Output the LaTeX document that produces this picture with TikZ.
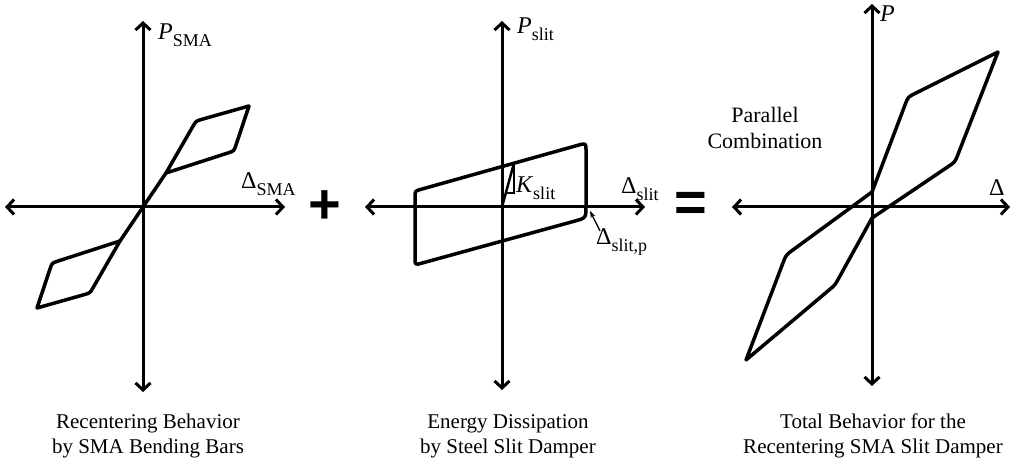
\documentclass[tikz,border=0pt]{standalone}
\usepackage{fontspec}
\setmainfont{Liberation Serif}
\newfontfamily\opfont{Liberation Sans}
\usetikzlibrary{arrows.meta,calc}
\tikzset{
  axisline/.style={line width=3pt, {Straight Barb[length=7pt,width=15pt]}-{Straight Barb[length=7pt,width=15pt]}},
  hyst/.style={line width=3.5pt, line join=round},
  slope/.style={line width=2pt},
  ptr/.style={-{Stealth[length=7pt,width=5pt]}, line width=1.3pt},
  lbl/.style={inner sep=0pt, anchor=base west, font=\fontsize{24}{24}\selectfont},
  capt/.style={inner sep=0pt, anchor=north, align=center, font=\fontsize{21}{25}\selectfont},
  op/.style={inner sep=0pt, font=\opfont\bfseries\fontsize{56}{56}\selectfont}
}
\newcommand{\lsub}[1]{\raisebox{-7pt}{\fontsize{18}{18}\selectfont #1}}

\begin{document}
\begin{tikzpicture}[x=1pt, y=1pt]
\useasboundingbox (0,0) rectangle (1024,471);
% Plot 1: SMA bending bars
\begin{scope}[shift={(143,264)}]
  \coordinate (o1) at (0,0);
  \coordinate (a1w) at (-138,0); \coordinate (a1e) at (142,0);
  \coordinate (a1s) at (0,-185); \coordinate (a1n) at (0,186);
  \draw[axisline] (a1w) -- (a1e);
  \draw[axisline] (a1s) -- (a1n);
  \coordinate (j1) at (23,34);   \coordinate (k1) at (53,86);
  \coordinate (t1) at (106,101); \coordinate (m1) at (91,56);
  \coordinate (j2) at (-23,-34);   \coordinate (k2) at (-53,-86);
  \coordinate (t2) at (-106,-101); \coordinate (m2) at (-91,-56);
  \draw[hyst] (j2) -- (j1);
  \draw[hyst] (j1) -- ($(k1)!6pt!(j1)$) .. controls (k1) .. ($(k1)!6pt!(t1)$) -- (t1)
    -- ($(m1)!6pt!(t1)$) .. controls (m1) .. ($(m1)!6pt!(j1)$) -- cycle;
  \draw[hyst] (j2) -- ($(k2)!6pt!(j2)$) .. controls (k2) .. ($(k2)!6pt!(t2)$) -- (t2)
    -- ($(m2)!6pt!(t2)$) .. controls (m2) .. ($(m2)!6pt!(j2)$) -- cycle;
\end{scope}
\node[lbl] (psma) at (158,431) {\textit{P}\lsub{SMA}};
\node[lbl] (dsma) at (241,282) {Δ\lsub{SMA}};
\node[op] (plus) at (325,264) {+};
% Plot 2: steel slit damper
\begin{scope}[shift={(502,264)}]
  \coordinate (o2) at (0,0);
  \coordinate (a2w) at (-137,0); \coordinate (a2e) at (143,0);
  \coordinate (a2s) at (0,-183); \coordinate (a2n) at (0,186);
  \draw[axisline] (a2w) -- (a2e);
  \draw[axisline] (a2s) -- (a2n);
  \coordinate (tl) at (-87,16); \coordinate (tr) at (84,64);
  \coordinate (br) at (84,-11); \coordinate (bl) at (-87,-58);
  \draw[hyst] (-87,-20) -- ($(tl)!6pt!(bl)$) .. controls (tl) .. ($(tl)!6pt!(tr)$)
    -- ($(tr)!8pt!(tl)$) .. controls (tr) .. ($(tr)!8pt!(br)$)
    -- ($(br)!12pt!(tr)$) .. controls (br) .. ($(br)!12pt!(bl)$)
    -- ($(bl)!7pt!(br)$) .. controls (bl) .. ($(bl)!7pt!(tl)$) -- cycle;
  \coordinate (kt) at (12,44); \coordinate (kb) at (12,14); \coordinate (kh) at (3.8,14);
  \draw[slope, line width=2.5pt] (o2) -- (kt);
  \draw[slope] (kt) -- (kb) -- (kh);
  \coordinate (yp) at (88,-4);
\end{scope}
\node[lbl] (pslit) at (517,437) {\textit{P}\lsub{slit}};
\node[lbl] (kslit) at (516,278) {\textit{K}\lsub{slit}};
\node[lbl] (dslit) at (621,277) {Δ\lsub{slit}};
\node[lbl] (dslitp) at (596,226) {Δ\lsub{slit,p}};
\draw[ptr] ($(dslitp.north west)+(4,-2)$) -- (yp);
\node[op] (equal) at (691,264) {=};
% Plot 3: total behaviour
\begin{scope}[shift={(872,264)}]
  \coordinate (o3) at (0,0);
  \coordinate (a3w) at (-140,0); \coordinate (a3e) at (138,0);
  \coordinate (a3s) at (0,-179); \coordinate (a3n) at (0,203);
  \draw[axisline] (a3w) -- (a3e);
  \draw[axisline] (a3s) -- (a3n);
  \coordinate (t3) at (126,155);  \coordinate (a3) at (36,110);
  \coordinate (p1) at (0,15);     \coordinate (p2) at (0,-11);
  \coordinate (b3) at (83,45);    \coordinate (c3) at (-37,-78);
  \coordinate (bt) at (-126,-153); \coordinate (d3) at (-86,-48);
  \draw[hyst] (p1) -- ($(a3)!8pt!(p1)$) .. controls (a3) .. ($(a3)!8pt!(t3)$) -- (t3)
    -- ($(b3)!8pt!(t3)$) .. controls (b3) .. ($(b3)!8pt!(p2)$) -- (p2)
    -- ($(c3)!8pt!(p2)$) .. controls (c3) .. ($(c3)!8pt!(bt)$) -- (bt)
    -- ($(d3)!8pt!(bt)$) .. controls (d3) .. ($(d3)!8pt!(p1)$) -- cycle;
\end{scope}
\node[lbl] (ptot) at (880,449) {\textit{P}};
\node[lbl] (dtot) at (989,275) {Δ};
\node[capt, font=\fontsize{22}{26}\selectfont] (comb) at (765,364) {Parallel\\Combination};
% Captions
\node[capt] (cap1) at (148,57) {Recentering Behavior\\by SMA Bending Bars};
\node[capt] (cap2) at (508,57) {Energy Dissipation\\by Steel Slit Damper};
\node[capt] (cap3) at (873,57) {Total Behavior for the\\Recentering SMA Slit Damper};
\end{tikzpicture}
\end{document}
